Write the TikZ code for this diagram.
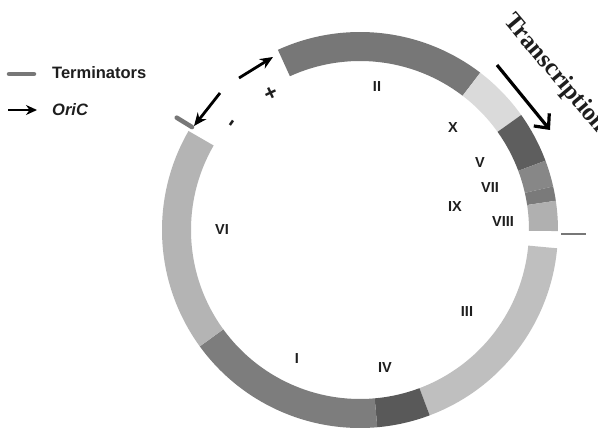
\documentclass[tikz,border=0pt]{standalone}
\usepackage{fontspec}
\setmainfont{Liberation Sans}
\newfontfamily\tnrfont{Liberation Serif}
\usetikzlibrary{arrows.meta}
\definecolor{cII}{HTML}{777777}
\definecolor{cX}{HTML}{DADADA}
\definecolor{cV}{HTML}{5E5E5E}
\definecolor{cVII}{HTML}{878787}
\definecolor{cIX}{HTML}{7A7A7A}
\definecolor{cVIII}{HTML}{B0B0B0}
\definecolor{cIII}{HTML}{BFBFBF}
\definecolor{cIV}{HTML}{595959}
\definecolor{cI}{HTML}{7D7D7D}
\definecolor{cVI}{HTML}{B4B4B4}
\definecolor{txt}{HTML}{1E1E1E}
\definecolor{term}{HTML}{777777}
\newcommand\ringseg[3]{\fill[#3] ([shift={(c)}]#1:198) arc[start angle=#1,end angle=#2,radius=198pt] -- ([shift={(c)}]#2:169) arc[start angle=#2,end angle=#1,radius=169pt] -- cycle;}
\begin{document}
\begin{tikzpicture}[x=1pt,y=1pt,
  lab/.style={font=\fontsize{14.5}{16}\selectfont\bfseries, text=txt, inner sep=0pt},
  sign/.style={font=\fontsize{22}{24}\selectfont\bfseries, text=txt, inner sep=0pt},
  leg/.style={font=\fontsize{16.5}{18}\selectfont\bfseries, text=txt, anchor=base west, inner sep=0pt},
  oriarrow/.style={line width=2.8pt, -{Stealth[length=13pt,width=11pt]}},
  termline/.style={term, line width=4.5pt, line cap=round}]
\useasboundingbox (0,0) rectangle (598,429);
\fill[white] (0,0) rectangle (598,429);
\coordinate (c) at (360,199);
% ring segments
\ringseg{114.5}{52.6}{cII}
\ringseg{52.6}{35.5}{cX}
\ringseg{35.5}{20.5}{cV}
\ringseg{20.5}{12.7}{cVII}
\ringseg{12.7}{8.5}{cIX}
\ringseg{8.5}{-0.3}{cVIII}
\ringseg{-5.3}{-69.4}{cIII}
\ringseg{-69.4}{-85}{cIV}
\ringseg{-85}{-144}{cI}
\ringseg{-144}{-210}{cVI}
% terminators on the ring
\coordinate (t1a) at ([shift={(c)}]148.5:197);
\coordinate (t1b) at ([shift={(c)}]148.5:215);
\draw[termline] (t1a) -- (t1b);
\coordinate (t2a) at (561,195);
\coordinate (t2b) at (586,195);
\draw[term, line width=2.6pt] (t2a) -- (t2b);
% oriC arrows
\coordinate (o1s) at (220,336);
\coordinate (o1e) at (194,303);
\draw[oriarrow] (o1s) -- (o1e);
\coordinate (o2s) at (239,351);
\coordinate (o2e) at (273,372);
\draw[oriarrow] (o2s) -- (o2e);
\node[sign, rotate=25] (plus) at (271,335) {+};
\node[sign, rotate=55] (minus) at (234,305) {-};
% segment labels
\node[lab] (lII) at (377,342) {II};
\node[lab] (lX) at (453,301) {X};
\node[lab] (lV) at (480,266) {V};
\node[lab] (lVII) at (490,241) {VII};
\node[lab] (lIX) at (455,222) {IX};
\node[lab] (lVIII) at (503,207) {VIII};
\node[lab] (lVI) at (222,199) {VI};
\node[lab] (lIII) at (467,117) {III};
\node[lab] (lI) at (297,70) {I};
\node[lab] (lIV) at (385,61) {IV};
% transcription
\coordinate (trs) at (497,364);
\coordinate (tre) at (550,299);
\draw[line width=3.2pt, -{Straight Barb[length=11pt,width=20pt,line width=3.2pt]}] (trs) -- (tre);
\node[font=\fontsize{25}{27}\selectfont\tnrfont\bfseries, text=txt, anchor=base west, rotate=-50, inner sep=0pt] (trans) at (503,408) {Transcription};
% legend
\coordinate (lg1a) at (9,355);
\coordinate (lg1b) at (34,355);
\draw[termline] (lg1a) -- (lg1b);
\node[leg] (legT) at (52,350) {Terminators};
\coordinate (lg2a) at (8,319);
\coordinate (lg2b) at (37,319);
\draw[line width=2.4pt, -{Stealth[length=11pt,width=10pt]}] (lg2a) -- (lg2b);
\node[leg] (legO) at (52,313) {\itshape OriC};
\end{tikzpicture}
\end{document}
